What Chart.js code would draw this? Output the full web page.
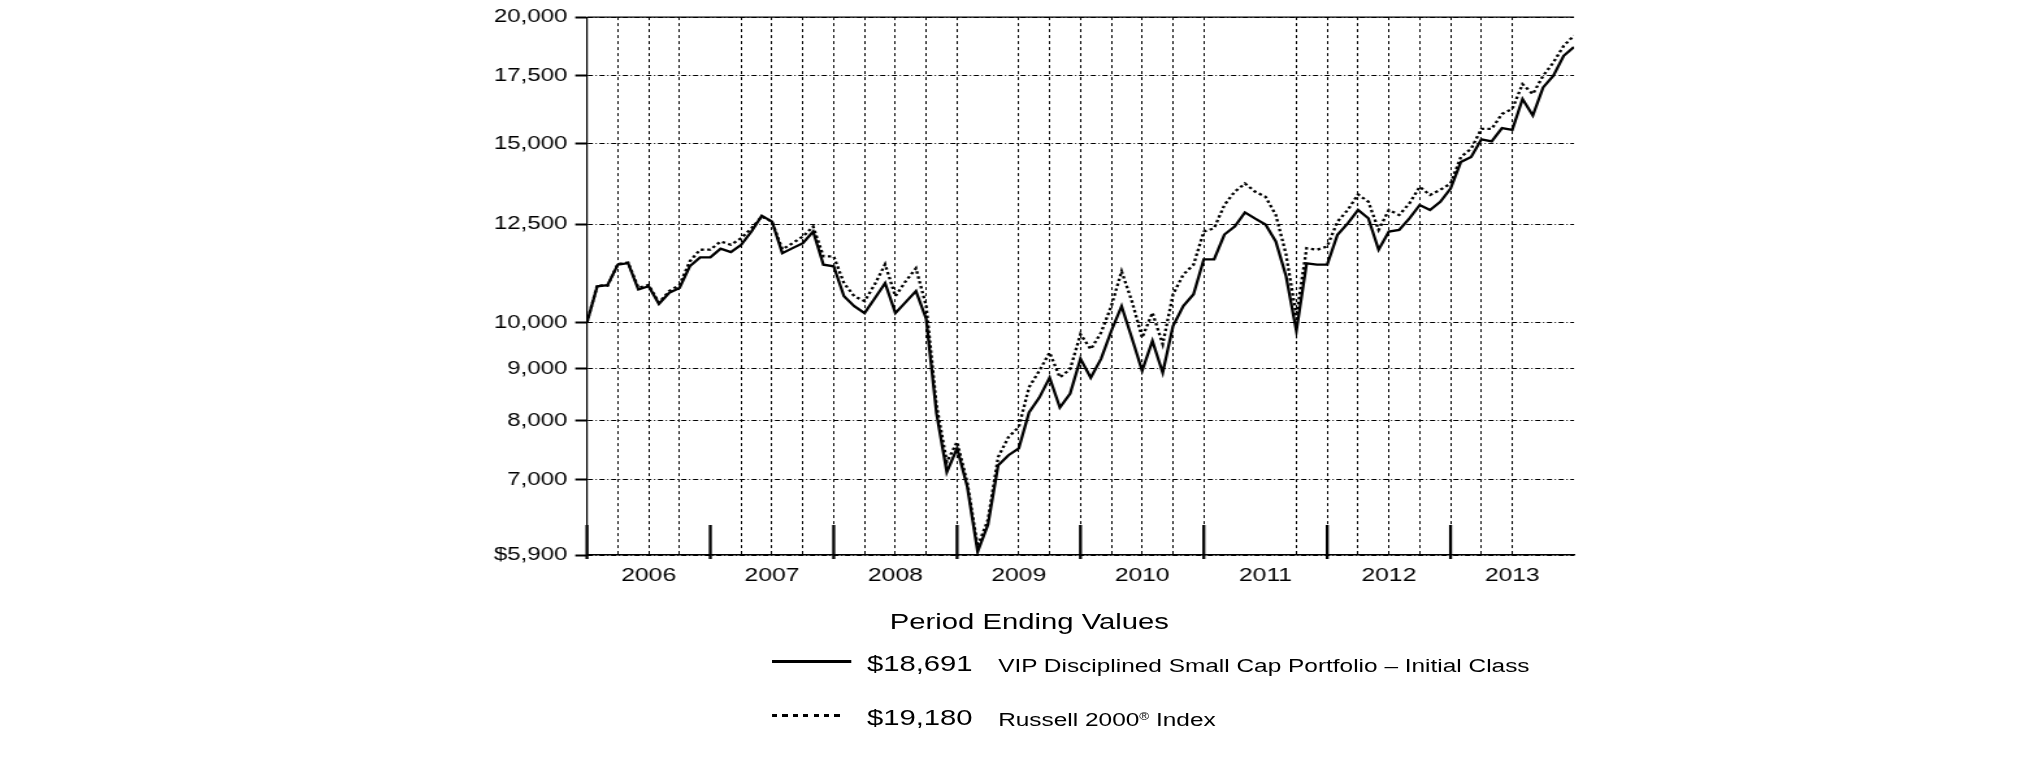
<!DOCTYPE html>
<html>
<head>
<meta charset="utf-8">
<title>Period Ending Values</title>
<script src="https://cdn.jsdelivr.net/npm/chart.js@4.4.1/dist/chart.umd.min.js"></script>
<style>
  body { margin: 0; background: #fff; }
  /* the source picture is stretched sideways, so the whole drawing is too */
  #wrap {
    position: relative; width: 1558px; height: 761px;
    transform: scaleX(1.2997); transform-origin: 0 0;
    font-family: "Liberation Sans", Arial, sans-serif; color: #000;
  }
  #wrap canvas { position: absolute; left: 0; top: 0; }
  .txt { position: absolute; white-space: nowrap; line-height: 1; }
  .swatch { position: absolute; height: 3px; }
  sup { font-size: 55%; vertical-align: 0.55em; line-height: 0; }
</style>
</head>
<body>
<div id="wrap">
  <canvas id="growth" width="1558" height="761"></canvas>
  <div class="txt" style="left:592px; top:611px; width:400px; text-align:center; font-size:22.5px;">Period Ending Values</div>
  <div id="legend"></div>
</div>
<script>
// month 0 = Dec 2005 ... month 96 = Dec 2013
var years = ['2006', '2007', '2008', '2009', '2010', '2011', '2012', '2013'];
var yTicks = [5900, 7000, 8000, 9000, 10000, 12500, 15000, 17500, 20000];
var hiddenGrid = [12, 39, 63, 66, 93, 96];

var seriesNames = ['VIP Disciplined Small Cap Portfolio \u2013 Initial Class', 'Russell 2000<sup>\u00AE</sup> Index'];

var fundValues = [
  10000, 10858, 10883, 11403, 11445, 10778, 10858, 10433, 10696, 10817, 11360, 11593,
  11593, 11823, 11732, 11930, 12293, 12745, 12574, 11706, 11839, 11973, 12293, 11403,
  11360, 10616, 10379, 10217, 10568, 10932, 10217, 10473, 10737, 10079, 8135, 7121,
  7517, 6884, 5944, 6318, 7234, 7399, 7517, 8153, 8434, 8823, 8245, 8510,
  9209, 8823, 9209, 9810, 10379, 9656, 8963, 9591, 8923, 9921, 10379, 10664,
  11541, 11541, 12210, 12433, 12840, 12659, 12489, 12019, 11106, 9810, 11437, 11403,
  11403, 12202, 12526, 12910, 12668, 11796, 12293, 12340, 12668, 13057, 12910, 13154,
  13555, 14397, 14560, 15153, 15085, 15545, 15485, 16607, 15997, 17051, 17507, 18316,
  18691
];

var indexValues = [
  10000, 10880, 10870, 11420, 11460, 10820, 10890, 10460, 10740, 10890, 11489, 11796,
  11800, 12019, 11930, 12109, 12385, 12716, 12574, 11804, 11973, 12155, 12433, 11619,
  11619, 10932, 10616, 10497, 10908, 11411, 10616, 10982, 11309, 10379, 8283, 7288,
  7624, 6946, 6016, 6390, 7371, 7711, 7887, 8632, 8963, 9341, 8829, 8998,
  9737, 9413, 9772, 10379, 11232, 10497, 9663, 10224, 9520, 10657, 11149, 11403,
  12293, 12385, 13057, 13455, 13709, 13455, 13303, 12765, 11671, 10148, 11839, 11796,
  11884, 12574, 12910, 13373, 13154, 12340, 12910, 12765, 13104, 13607, 13355, 13515,
  13709, 14560, 14836, 15520, 15520, 16055, 16237, 17178, 16795, 17507, 18042, 18735,
  19180
];

function money(v) {
  return '$' + v.toLocaleString('en-US');
}

// legend under the chart
var rows = [
  {name: seriesNames[0], value: fundValues[fundValues.length - 1], top: 0, dotted: false},
  {name: seriesNames[1], value: indexValues[indexValues.length - 1], top: 54, dotted: true}
];
var html = '';
rows.forEach(function (r) {
  var bg = r.dotted
    ? 'repeating-linear-gradient(to right, #000 0 4px, transparent 4px 8px); width:54px;'
    : '#000; width:61px;';
  html += '<div class="swatch" style="left:594px; top:' + (659.5 + r.top) + 'px; background:' + bg + '"></div>';
  html += '<div class="txt" style="left:667px; top:' + (653.3 + r.top) + 'px; font-size:22.5px;">' + money(r.value) + '</div>';
  html += '<div class="txt" style="left:768px; top:' + (656.6 + r.top) + 'px; font-size:18.8px;">' + r.name + '</div>';
});
document.getElementById('legend').innerHTML = html;

var frame = {
  id: 'frame',
  afterDraw: function (chart) {
    var ctx = chart.ctx;
    var a = chart.chartArea;
    var x = chart.scales.x;
    ctx.save();
    ctx.strokeStyle = '#000';
    ctx.lineWidth = 1.2;
    ctx.beginPath();
    ctx.moveTo(a.left, a.top);
    ctx.lineTo(a.right, a.top);
    ctx.stroke();
    // year separators
    ctx.lineWidth = 2.3;
    years.forEach(function (y, i) {
      var px = x.getPixelForValue(i * 12);
      ctx.beginPath();
      ctx.moveTo(px, a.bottom - 30);
      ctx.lineTo(px, a.bottom + 4);
      ctx.stroke();
    });
    ctx.restore();
  }
};

var ctx = document.getElementById('growth').getContext('2d');
var chart = new Chart(ctx, {
  type: 'line',
  data: {
    datasets: [{
      label: 'VIP Disciplined Small Cap Portfolio',
      data: fundValues.map(function (v, i) { return {x: i, y: v}; }),
      borderColor: '#000',
      borderWidth: 2.3,
      pointRadius: 0,
      tension: 0
    }, {
      label: 'Russell 2000 Index',
      data: indexValues.map(function (v, i) { return {x: i, y: v}; }),
      borderColor: '#000',
      borderWidth: 2.3,
      borderDash: [2.5, 2.5],
      pointRadius: 0,
      tension: 0
    }]
  },
  options: {
    responsive: false,
    animation: false,
    events: [],
    layout: { padding: { left: 0, top: 14, right: 347, bottom: 0 } },
    plugins: {
      legend: { display: false },
      tooltip: { enabled: false }
    },
    scales: {
      x: {
        type: 'linear',
        min: 0,
        max: 96,
        afterFit: function (s) { s.height = 206; },
        ticks: {
          stepSize: 3,
          autoSkip: false,
          maxRotation: 0,
          padding: 9,
          color: '#000',
          font: { family: 'Liberation Sans', size: 19 },
          callback: function (v) { return v % 12 === 6 ? years[(v - 6) / 12] : ''; }
        },
        grid: {
          drawTicks: false,
          lineWidth: 1,
          color: function (c) {
            return c.tick && hiddenGrid.indexOf(c.tick.value) >= 0 ? 'rgba(0,0,0,0)' : '#000';
          }
        },
        border: { display: true, color: '#000', width: 1.5, dash: [3, 3] }
      },
      y: {
        type: 'logarithmic',
        min: 5900,
        max: 20000,
        afterFit: function (s) { s.width = 451.6; },
        afterBuildTicks: function (s) {
          s.ticks = yTicks.map(function (v) { return {value: v}; });
        },
        ticks: {
          padding: 6,
          color: '#000',
          font: { family: 'Liberation Sans', size: 18.5 },
          callback: function (v) { return v === 5900 ? money(v) : v.toLocaleString('en-US'); }
        },
        grid: {
          color: '#000',
          lineWidth: 1,
          drawTicks: true,
          tickLength: 9,
          tickWidth: 2,
          tickColor: '#000',
          tickBorderDash: []
        },
        border: { display: true, color: '#000', width: 1.2, dash: [4, 2, 1, 2] }
      }
    }
  },
  plugins: [frame]
});
</script>
</body>
</html>
